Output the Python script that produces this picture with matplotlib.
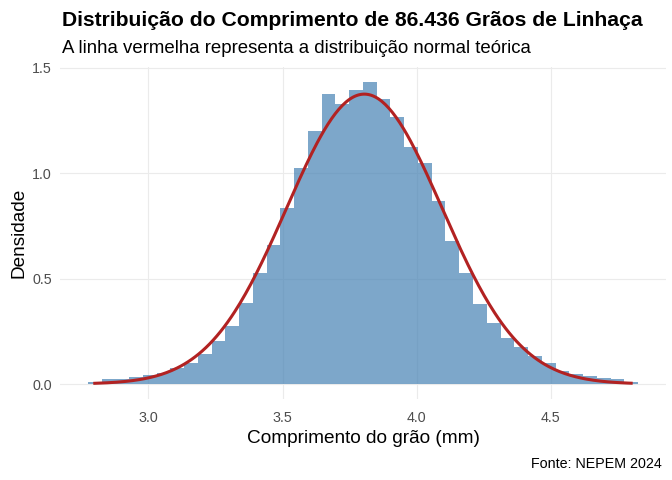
import numpy as np
import matplotlib
matplotlib.use("Agg")
import matplotlib.pyplot as plt

plt.rcParams['font.family'] = ['Liberation Sans', 'DejaVu Sans']

# histogram densities (40 bins)
densidade = [0.010, 0.024, 0.024, 0.033, 0.043, 0.052, 0.076, 0.101, 0.142, 0.204,
             0.275, 0.384, 0.528, 0.660, 0.835, 1.025, 1.201, 1.377, 1.331, 1.396,
             1.434, 1.353, 1.267, 1.123, 1.049, 0.869, 0.679, 0.528, 0.380, 0.290,
             0.218, 0.176, 0.133, 0.100, 0.062, 0.047, 0.038, 0.028, 0.024, 0.010]
x_min, x_max = 2.80, 4.80      # range of the grain lengths
media, desvio = 3.805, 0.290   # parameters of the theoretical normal curve

n_bins = len(densidade)
largura = (x_max - x_min) / (n_bins - 1)
bordas = x_min - largura / 2 + largura * np.arange(n_bins)

xs = np.linspace(x_min, x_max, 300)
ys = np.exp(-0.5 * ((xs - media) / desvio) ** 2) / (desvio * np.sqrt(2 * np.pi))

fig = plt.figure(figsize=(6.72, 4.8), dpi=100)
ax = fig.add_axes([0.0899, 0.1685, 0.9005, 0.6925])

ax.bar(bordas, densidade, width=largura, align='edge', color='steelblue',
       alpha=0.7, linewidth=0, zorder=2)
ax.plot(xs, ys, color='firebrick', linewidth=2.2, zorder=3)

lo, hi = bordas[0], bordas[-1] + largura
pad = (hi - lo) * 0.05
ax.set_xlim(lo - pad, hi + pad)
ymax = max(densidade)
ax.set_ylim(-ymax * 0.05, ymax * 1.05)

ax.set_xticks([3.0, 3.5, 4.0, 4.5])
ax.set_yticks([0.0, 0.5, 1.0, 1.5])
ax.set_xticklabels(['3.0', '3.5', '4.0', '4.5'])
ax.set_yticklabels(['0.0', '0.5', '1.0', '1.5'])
ax.grid(True, color='#EBEBEB', linewidth=0.8, zorder=0)
ax.set_axisbelow(True)
for s in ax.spines.values():
    s.set_visible(False)
ax.tick_params(length=0, labelsize=10.3, labelcolor='#4D4D4D')
ax.tick_params(axis='x', pad=8.5)
ax.tick_params(axis='y', pad=6.2)

ax.set_xlabel('Comprimento do grão (mm)', fontsize=13.7, labelpad=4)
ax.set_ylabel('Densidade', fontsize=13.7, labelpad=3.5)

fig.text(0.0918, 0.9465, 'Distribuição do Comprimento de 86.436 Grãos de Linhaça',
         fontsize=15.25, fontweight='bold', ha='left', va='baseline')
fig.text(0.0918, 0.889, 'A linha vermelha representa a distribuição normal teórica',
         fontsize=13.4, ha='left', va='baseline')
fig.text(0.9847, 0.0256, 'Fonte: NEPEM 2024', fontsize=10.25, ha='right', va='baseline')

fig.savefig('out.png', dpi=100)
